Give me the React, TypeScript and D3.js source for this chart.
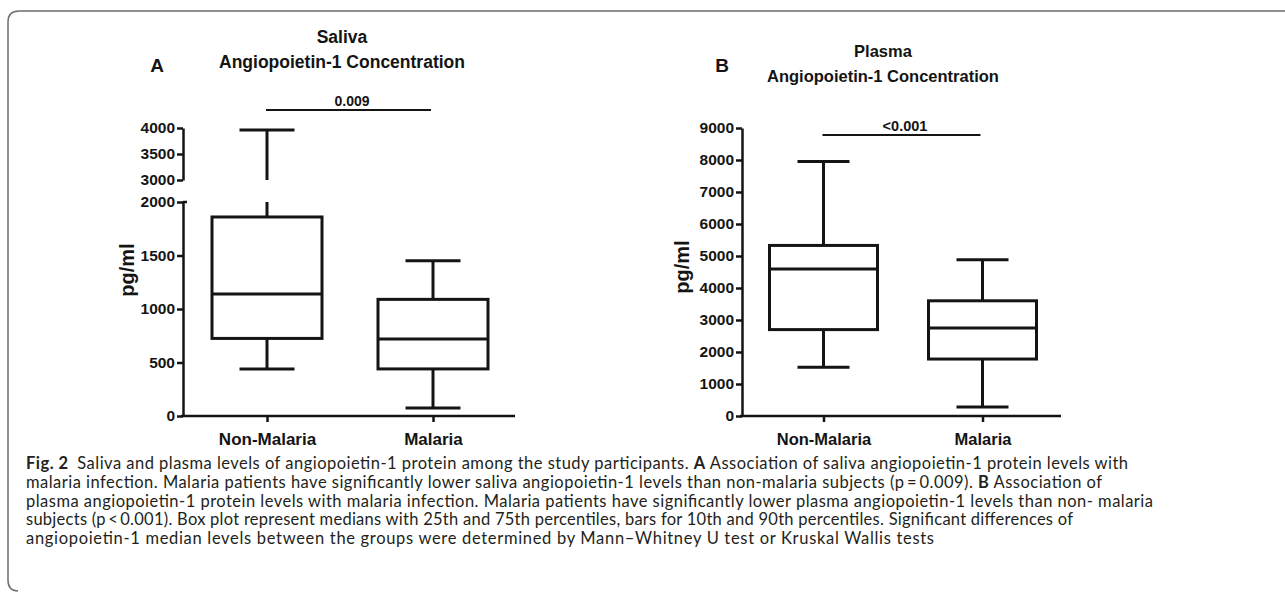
// Angiopoietin-1 box plots (saliva with broken axis, plasma) + figure caption
import React, { useRef, useEffect } from 'react';
import * as d3 from 'd3';

const CATEGORIES = ['Non-Malaria', 'Malaria'];

// [10th pct, 25th pct, median, 75th pct, 90th pct] in pg/ml
const SALIVA_NON_MALARIA = [440, 725, 1140, 1860, 3960];
const SALIVA_MALARIA = [75, 440, 720, 1090, 1450];
const PLASMA_NON_MALARIA = [1520, 2700, 4590, 5330, 7950];
const PLASMA_MALARIA = [280, 1780, 2750, 3600, 4880];

const SALIVA_TICKS_LOW = [0, 500, 1000, 1500, 2000];
const SALIVA_TICKS_HIGH = [3000, 3500, 4000];
const PLASMA_TICKS = [0, 1000, 2000, 3000, 4000, 5000, 6000, 7000, 8000, 9000];

const SALIVA_P = '0.009';
const PLASMA_P = '<0.001';

// caption lines: [text, bold]
const CAPTION_LINES: [string, boolean][][] = [
  [['Fig. 2', true], ['\u2002Saliva and plasma levels of angiopoietin-1 protein among the study participants. ', false], ['A', true], [' Association of saliva angiopoietin-1 protein levels with', false]],
  [['malaria infection. Malaria patients have significantly lower saliva angiopoietin-1 levels than non-malaria subjects (p\u2009=\u20090.009). ', false], ['B', true], [' Association of', false]],
  [['plasma angiopoietin-1 protein levels with malaria infection. Malaria patients have significantly lower plasma angiopoietin-1 levels than non- malaria', false]],
  [['subjects (p\u2009<\u20090.001). Box plot represent medians with 25th and 75th percentiles, bars for 10th and 90th percentiles. Significant differences of', false]],
  [['angiopoietin-1 median levels between the groups were determined by Mann\u2013Whitney U test or Kruskal Wallis tests', false]],
];
const CAPTION_WIDTHS = [1102, 1076, 1127, 1047, 908];

const FONT = '"Liberation Sans", Arial, Helvetica, sans-serif';
const INK = '#141414';

type Segment = { domain: [number, number]; range: [number, number]; ticks: number[] };

type PanelCfg = {
  letter: string;
  letterX: number;
  title: [string, string];
  titleX: number;
  titleY: [number, number];
  titleSize: number;
  axisX: number;
  xRange: [number, number];
  segments: Segment[];
  series: number[][];
  boxW: number;
  capW: number;
  tickSize: number;
  labelSize: number;
  yLabelX: number;
  yLabelY: number;
  pText: string;
  pY: number;
  pSize: number;
};

function drawPanel(svg: d3.Selection<SVGSVGElement, unknown, null, undefined>, cfg: PanelCfg) {
  const g = svg.append('g');
  const x = d3.scalePoint<string>().domain(CATEGORIES).range(cfg.xRange).padding(0.5);
  const scales = cfg.segments.map(s => ({ ...s, y: d3.scaleLinear().domain(s.domain).range(s.range) }));
  const yOf = (v: number) => {
    const s = scales.find(s => v >= s.domain[0] && v <= s.domain[1]) || scales[0];
    return s.y(v);
  };
  const baseY = cfg.segments[0].range[0];

  // Titles
  g.append('text')
    .attr('x', cfg.letterX).attr('y', 72)
    .attr('text-anchor', 'middle')
    .style('font-family', FONT).style('font-weight', 700).style('font-size', '19px')
    .attr('fill', INK)
    .text(cfg.letter);
  cfg.title.forEach((t, i) => {
    g.append('text')
      .attr('x', cfg.titleX).attr('y', cfg.titleY[i])
      .attr('text-anchor', 'middle')
      .style('font-family', FONT).style('font-weight', 700).style('font-size', `${cfg.titleSize}px`)
      .attr('fill', INK)
      .text(t);
  });

  // Y axis segments
  scales.forEach((s, si) => {
    const ax = g.append('g')
      .attr('transform', `translate(${cfg.axisX},0)`)
      .call(d3.axisLeft(s.y).tickValues(s.ticks).tickSize(6).tickSizeOuter(0).tickPadding(2).tickFormat(d3.format('d')));
    ax.selectAll('.domain, .tick line').attr('stroke', INK).attr('stroke-width', 2.5);
    ax.selectAll('text')
      .attr('fill', INK)
      .style('font-family', FONT).style('font-weight', 700).style('font-size', `${cfg.tickSize}px`);
    // little cap to the right at the top of the lower segment of a broken axis
    if (scales.length > 1 && si === 0) {
      ax.append('line')
        .attr('x1', 0).attr('x2', 4)
        .attr('y1', s.range[1]).attr('y2', s.range[1])
        .attr('stroke', INK).attr('stroke-width', 2.5);
    }
  });

  // X axis
  const xa = g.append('g')
    .attr('transform', `translate(0,${baseY})`)
    .call(d3.axisBottom(x).tickSize(6).tickSizeOuter(0).tickPadding(11));
  xa.select('.domain').attr('d', `M${cfg.axisX - 2},0H${cfg.xRange[1] - 1}`);
  xa.selectAll('.domain, .tick line').attr('stroke', INK).attr('stroke-width', 2.5);
  xa.selectAll('text')
    .attr('fill', INK)
    .style('font-family', FONT).style('font-weight', 700).style('font-size', `${cfg.labelSize}px`);

  // Y label
  g.append('text')
    .attr('transform', `translate(${cfg.yLabelX},${cfg.yLabelY}) rotate(-90)`)
    .attr('text-anchor', 'middle')
    .attr('dy', '0.35em')
    .style('font-family', FONT).style('font-weight', 700).style('font-size', '20px')
    .attr('fill', INK)
    .text('pg/ml');

  // Boxes and whiskers
  cfg.series.forEach((d, i) => {
    const cx = x(CATEGORIES[i]) as number;
    const [lo, q1, med, q3, hi] = d;
    const wg = g.append('g').attr('stroke', INK).attr('stroke-width', 3).attr('fill', 'none');
    const whiskers: [number, number][] = [[lo, q1], [q3, hi]];
    whiskers.forEach(([a, b]) => {
      scales.forEach(s => {
        const l = Math.max(a, s.domain[0]);
        const h = Math.min(b, s.domain[1]);
        if (l < h) {
          wg.append('line').attr('x1', cx).attr('x2', cx).attr('y1', s.y(l)).attr('y2', s.y(h));
        }
      });
    });
    [lo, hi].forEach(v => {
      wg.append('line')
        .attr('x1', cx - cfg.capW / 2).attr('x2', cx + cfg.capW / 2)
        .attr('y1', yOf(v)).attr('y2', yOf(v));
    });
    wg.append('rect')
      .attr('x', cx - cfg.boxW / 2).attr('width', cfg.boxW)
      .attr('y', yOf(q3)).attr('height', yOf(q1) - yOf(q3))
      .attr('fill', '#fff');
    wg.append('line')
      .attr('x1', cx - cfg.boxW / 2).attr('x2', cx + cfg.boxW / 2)
      .attr('y1', yOf(med)).attr('y2', yOf(med));
  });

  // Significance bar
  const x0 = x(CATEGORIES[0]) as number;
  const x1 = x(CATEGORIES[1]) as number;
  g.append('line')
    .attr('x1', x0 - 1).attr('x2', x1 - 2)
    .attr('y1', cfg.pY).attr('y2', cfg.pY)
    .attr('stroke', INK).attr('stroke-width', 2);
  g.append('text')
    .attr('x', (x0 + x1) / 2 + 2).attr('y', cfg.pY - 4)
    .attr('text-anchor', 'middle')
    .style('font-family', FONT).style('font-weight', 700).style('font-size', `${cfg.pSize}px`)
    .attr('fill', INK)
    .text(cfg.pText);
}

export default function App() {
  const svgRef = useRef<SVGSVGElement>(null);

  useEffect(() => {
    if (!svgRef.current) return;
    const svg = d3.select(svgRef.current);
    svg.selectAll('*').remove();

    // Frame
    svg.append('path')
      .attr('d', 'M1285,11H19Q8,11,8,22V580Q8,591,18,591')
      .attr('fill', 'none').attr('stroke', '#6e6e6e').attr('stroke-width', 1.5);

    drawPanel(svg, {
      letter: 'A', letterX: 157,
      title: ['Saliva', 'Angiopoietin-1 Concentration'],
      titleX: 342, titleY: [43, 68], titleSize: 17.5,
      axisX: 183, xRange: [184, 516],
      segments: [
        { domain: [0, 2000], range: [416, 202], ticks: SALIVA_TICKS_LOW },
        { domain: [3000, 4000], range: [180, 128], ticks: SALIVA_TICKS_HIGH },
      ],
      series: [SALIVA_NON_MALARIA, SALIVA_MALARIA],
      boxW: 110, capW: 55,
      tickSize: 15.5, labelSize: 17,
      yLabelX: 127, yLabelY: 270,
      pText: SALIVA_P, pY: 110, pSize: 14,
    });

    drawPanel(svg, {
      letter: 'B', letterX: 722,
      title: ['Plasma', 'Angiopoietin-1 Concentration'],
      titleX: 883, titleY: [57, 82], titleSize: 16.5,
      axisX: 742, xRange: [744, 1062],
      segments: [
        { domain: [0, 9000], range: [416, 128], ticks: PLASMA_TICKS },
      ],
      series: [PLASMA_NON_MALARIA, PLASMA_MALARIA],
      boxW: 108, capW: 52,
      tickSize: 15.5, labelSize: 16.5,
      yLabelX: 682, yLabelY: 267,
      pText: PLASMA_P, pY: 135, pSize: 14.5,
    });

    // Caption
    const cap = svg.append('g');
    CAPTION_LINES.forEach((segs, i) => {
      const t = cap.append('text')
        .attr('x', 26).attr('y', 469 + i * 18.8)
        .attr('textLength', CAPTION_WIDTHS[i])
        .attr('lengthAdjust', 'spacing')
        .style('font-family', 'Lato, "Open Sans", sans-serif')
        .style('font-size', '16.5px')
        .style('white-space', 'pre')
        .attr('fill', '#231f20');
      segs.forEach(([s, b]) => {
        t.append('tspan').style('font-weight', b ? 700 : 400).text(s);
      });
    });
  }, []);

  return (
    <div style={{ position: 'absolute', left: 0, top: 0, width: 1285, height: 594, background: '#fff' }}>
      <svg ref={svgRef} width={1285} height={594} style={{ display: 'block' }} />
    </div>
  );
}
